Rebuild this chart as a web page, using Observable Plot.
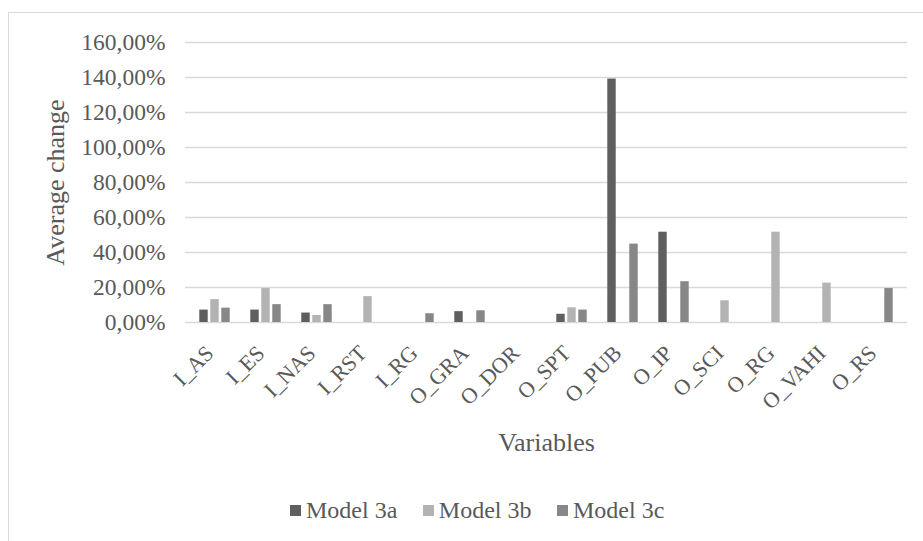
<!DOCTYPE html>
<html><head><meta charset="utf-8">
<script src="https://cdn.jsdelivr.net/npm/d3@7"></script>
<script src="https://cdn.jsdelivr.net/npm/@observablehq/plot@0.6"></script>
<style>
html,body{margin:0;padding:0;background:#fff;overflow:hidden;}
#wrap{position:relative;width:923px;height:541px;font-family:"Liberation Serif","Times New Roman",serif;color:#595959;}
#border{position:absolute;left:8px;top:12px;right:0;bottom:0;border-left:1px solid #d9d9d9;border-top:1px solid #d9d9d9;}
#chart{position:absolute;left:0;top:0;}
#legend{position:absolute;left:290px;top:496px;display:flex;gap:25.5px;font-size:24px;line-height:28px;}
.item{display:flex;align-items:center;}
.sw{width:11px;height:11px;margin-right:5px;}
</style></head><body>
<div id="wrap"><div id="border"></div><div id="chart"></div><div id="legend"></div></div>
<script>
const categories = ["I_AS","I_ES","I_NAS","I_RST","I_RG","O_GRA","O_DOR","O_SPT","O_PUB","O_IP","O_SCI","O_RG","O_VAHI","O_RS"];
const models = ["Model 3a","Model 3b","Model 3c"];
const model3a = [0.071, 0.071, 0.054, null, null, 0.062, null, 0.047, 1.391, 0.516, null, null, null, null];
const model3b = [0.131, 0.194, 0.040, 0.148, null, null, null, 0.084, null, null, 0.124, 0.516, 0.225, null];
const model3c = [0.082, 0.102, 0.102, null, 0.050, 0.067, null, 0.071, 0.448, 0.233, null, null, null, 0.194];
const yTicks = [0, 0.2, 0.4, 0.6, 0.8, 1.0, 1.2, 1.4, 1.6];
const colors = ["#5f5f5f", "#b3b3b3", "#878787"];

const series = [model3a, model3b, model3c];
const locale = d3.formatLocale({decimal: ",", thousands: " ", grouping: [3], currency: ["", ""], percent: "%"});
const fmt = locale.format(".2%");

const W = 923, H = 480, mL = 185, mR = 16, mT = 42, mB = 158;
const bw = (W - mL - mR) / categories.length; // band width
const barW = 9, step = 11;

const barMarks = series.map((s, j) => {
  const rows = categories.map((c, i) => ({category: c, model: models[j], value: s[i]})).filter(d => d.value != null);
  const insetLeft = bw / 2 + (j - 1) * step - barW / 2;
  const insetRight = bw - insetLeft - barW;
  return Plot.barY(rows, {x: "category", y: "value", fill: "model", insetLeft, insetRight});
});

const chart = Plot.plot({
  width: W, height: H,
  marginTop: mT, marginBottom: mB, marginLeft: mL, marginRight: mR,
  style: {fontFamily: "Liberation Serif", fontSize: "24px", color: "#595959", background: "transparent"},
  x: {domain: categories, padding: 0},
  y: {domain: [0, 1.6]},
  color: {domain: models, range: colors},
  marks: [
    Plot.gridY(yTicks, {stroke: "#d9d9d9", strokeOpacity: 1, strokeWidth: 1.3}),
    ...barMarks,
    Plot.axisY(yTicks, {tickSize: 0, tickPadding: 20, tickFormat: fmt, label: null, fontSize: 23.5}),
    Plot.axisY([], {label: "Average change", labelAnchor: "center", labelOffset: 140, labelArrow: "none", fontSize: 26}),
    Plot.axisX({anchor: "bottom", tickRotate: -45, tickSize: 0, tickPadding: 27, dx: -5, label: null, fontSize: 22}),
    Plot.axisX([], {anchor: "bottom", label: "Variables", labelAnchor: "center", labelOffset: 128, labelArrow: "none", fontSize: 26})
  ]
});
document.getElementById("chart").appendChild(chart);

const legend = document.getElementById("legend");
models.forEach((m, i) => {
  const item = document.createElement("div");
  item.className = "item";
  const sw = document.createElement("span");
  sw.className = "sw";
  sw.style.background = colors[i];
  const t = document.createElement("span");
  t.textContent = m;
  item.appendChild(sw); item.appendChild(t);
  legend.appendChild(item);
});
</script>
</body></html>
